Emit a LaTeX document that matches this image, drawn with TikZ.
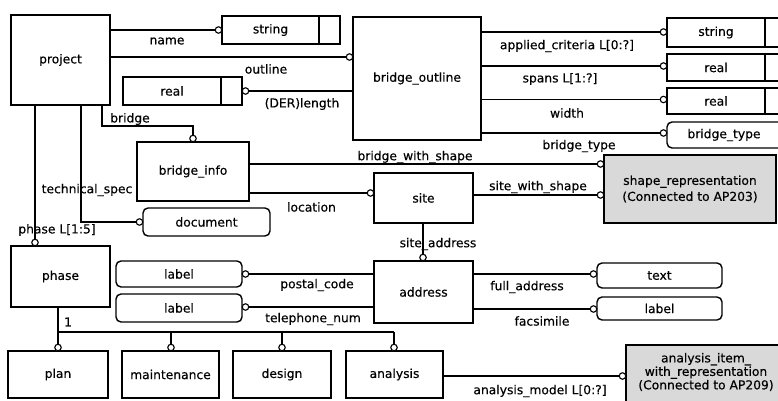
\documentclass[tikz,border=0pt]{standalone}
\usepackage{fontspec}
\setmainfont{DejaVu Sans}[FakeBold=0.35]
\newcommand\fsz{\fontsize{12.3}{14}\selectfont}
\newcommand\fszb{\fontsize{12.3}{13.5}\selectfont}
\tikzset{
  x=1pt, y=-1pt,
  ent/.style={draw, line width=1.4pt, inner sep=0pt, outer sep=0pt, font=\fsz},
  typ/.style={ent, rounded corners=5pt},
  ext/.style={ent, fill=black!15},
  rel/.style={line width=1.1pt},
  sub/.style={line width=2.4pt},
  oc/.style={circle, fill=white, line width=1.1pt, inner sep=0pt, outer sep=0pt, minimum size=6.5pt},
  lab/.style={font=\fsz, inner sep=0pt},
}
\begin{document}
\begin{tikzpicture}
\useasboundingbox (0,0) rectangle (778,401);
% entities
\node[ent, minimum width=99, minimum height=90] (project) at (60.5,60) {project};
\node[ent, minimum width=128, minimum height=123] (bridge_outline) at (417,78.5) {bridge\_outline};
\node[ent, minimum width=112, minimum height=59] (bridge_info) at (193,171.5) {bridge\_info};
\node[ent, minimum width=99, minimum height=61] (phase) at (60.5,276.5) {phase};
\node[ent, minimum width=99, minimum height=50] (site) at (423.5,198) {site};
\node[ent, minimum width=99, minimum height=62] (address) at (423.5,292) {address};
\node[ent, minimum width=100, minimum height=47] (plan) at (58,374.5) {plan};
\node[ent, minimum width=97, minimum height=47] (maintenance) at (170.5,374.5) {maintenance};
\node[ent, minimum width=98, minimum height=47] (design) at (282,374.5) {design};
\node[ent, minimum width=97, minimum height=47] (analysis) at (394.5,374.5) {analysis};
% simple types with extra cell
\node[ent, minimum width=97, minimum height=28] (string1) at (270.5,30) {string};
\node[ent, minimum width=21, minimum height=28, anchor=west] (string1c) at (string1.east) {};
\node[ent, minimum width=98, minimum height=28] (real1) at (172,91) {real};
\node[ent, minimum width=21, minimum height=28, anchor=west] (real1c) at (real1.east) {};
\node[ent, minimum width=98, minimum height=29] (string2) at (716,32.5) {string};
\node[ent, minimum width=25, minimum height=29, anchor=west] (string2c) at (string2.east) {};
\node[ent, minimum width=98, minimum height=27] (real2) at (716,67.5) {real};
\node[ent, minimum width=25, minimum height=27, anchor=west] (real2c) at (real2.east) {};
\node[ent, minimum width=98, minimum height=26] (real3) at (716,101) {real};
\node[ent, minimum width=25, minimum height=26, anchor=west] (real3c) at (real3.east) {};
% defined types
\node[typ, minimum width=127, minimum height=28] (document) at (206.5,222) {document};
\node[typ, minimum width=126, minimum height=26] (label1) at (179,274) {label};
\node[typ, minimum width=126, minimum height=28] (label2) at (179,308) {label};
\node[typ, minimum width=125, minimum height=25] (text) at (659.5,275.5) {text};
\node[typ, minimum width=125, minimum height=23] (label3) at (659.5,308.5) {label};
\node[typ, minimum width=124, minimum height=26] (bridge_type) at (729,135) {};
\node[lab] (bridge_type_t) at (724,135) {bridge\_type};
% external entities
\node[ext, minimum width=172, minimum height=68, align=center] (shape_rep) at (690,189)
  {shape\_representation\\[2pt](Connected to AP203)};
\node[ext, minimum width=164, minimum height=64] (analysis_item) at (708,377) {};
\node[lab, align=center, font=\fszb] (analysis_item_t) at (706,372)
  {analysis\_item\_\\with\_representation\\(Connected to AP209)};
% circle positions
\node[oc] (o_name) at (218.5,30) {};
\node[oc] (o_outline) at (349.5,57) {};
\node[oc] (o_der) at (245.5,91) {};
\node[oc] (o_bridge) at (193,138.5) {};
\node[oc] (o_tech) at (139.5,222) {};
\node[oc] (o_phase) at (35,242.5) {};
\node[oc] (o_appl) at (663.5,32) {};
\node[oc] (o_spans) at (663.5,66) {};
\node[oc] (o_width) at (663.5,99.5) {};
\node[oc] (o_btype) at (663.5,133) {};
\node[oc] (o_bws) at (600.5,164) {};
\node[oc] (o_sws) at (600.5,195) {};
\node[oc] (o_loc) at (370.5,193) {};
\node[oc] (o_saddr) at (423,257.5) {};
\node[oc] (o_postal) at (245.5,274) {};
\node[oc] (o_tel) at (245.5,307) {};
\node[oc] (o_full) at (593.5,274) {};
\node[oc] (o_fax) at (593.5,309) {};
\node[oc] (o_amodel) at (622.5,376) {};
\node[oc] (o_plan) at (58,347.5) {};
\node[oc] (o_maint) at (171,347.5) {};
\node[oc] (o_design) at (282,347.5) {};
\node[oc] (o_anal) at (394,347.5) {};
% relationships
\draw[rel] (project.east |- o_name) -- (o_name);
\draw[rel] (project.east |- o_outline) -- (o_outline);
\draw[rel] (bridge_outline.west |- o_der) -- (o_der);
\draw[rel] ([xshift=91pt]project.south west) |- (o_bridge |- 0,126) -- (o_bridge);
\draw[rel] ([xshift=70pt]project.south west) |- (o_tech);
\draw[rel] ([xshift=24pt]project.south west) -- (o_phase);
\draw[rel] (bridge_outline.east |- o_appl) -- (o_appl);
\draw[rel] (bridge_outline.east |- o_spans) -- (o_spans);
\draw[rel] (bridge_outline.east |- o_width) -- (o_width);
\draw[rel] (bridge_outline.east |- o_btype) -- (o_btype);
\draw[rel] (bridge_info.east |- o_bws) -- (o_bws);
\draw[rel] (bridge_info.east |- o_loc) -- (o_loc);
\draw[rel] (site.east |- o_sws) -- (o_sws);
\draw[rel] (site.south -| o_saddr) -- (o_saddr);
\draw[rel] (address.west |- o_postal) -- (o_postal);
\draw[rel] (address.west |- o_tel) -- (o_tel);
\draw[rel] (address.east |- o_full) -- (o_full);
\draw[rel] (address.east |- o_fax) -- (o_fax);
\draw[rel] (analysis.east |- o_amodel) -- (o_amodel);
% subtype tree
\draw[sub] (phase.south -| o_plan) -- (o_plan);
\draw[sub] (o_plan |- 0,332) -- (o_anal |- 0,332);
\draw[sub] (o_maint |- 0,332) -- (o_maint);
\draw[sub] (o_design |- 0,332) -- (o_design);
\draw[sub] (o_anal |- 0,332) -- (o_anal);
% circles drawn on top
\foreach \c in {o_name,o_outline,o_der,o_bridge,o_tech,o_phase,o_appl,o_spans,o_width,o_btype,o_bws,o_sws,o_loc,o_saddr,o_postal,o_tel,o_full,o_fax,o_amodel,o_plan,o_maint,o_design,o_anal}
  \draw[line width=1.1pt, fill=white] (\c.center) circle (3.25pt);
% labels
\node[lab] (l_name) at (167,41) {name};
\node[lab] (l_outline) at (266,69) {outline};
\node[lab] (l_der) at (302,104) {(DER)length};
\node[lab] (l_bridge) at (130,119) {bridge};
\node[lab] (l_tech) at (87,190) {technical\_spec};
\node[lab] (l_phase) at (57,230) {phase L[1:5]};
\node[lab] (l_appl) at (567,46) {applied\_criteria L[0:?]};
\node[lab] (l_spans) at (560,79) {spans L[1:?]};
\node[lab] (l_width) at (567,113) {width};
\node[lab] (l_btype) at (579,146) {bridge\_type};
\node[lab] (l_bws) at (415,157) {bridge\_with\_shape};
\node[lab] (l_sws) at (538,187) {site\_with\_shape};
\node[lab] (l_loc) at (311.5,207) {location};
\node[lab] (l_saddr) at (438,244) {site\_address};
\node[lab] (l_postal) at (317,285) {postal\_code};
\node[lab] (l_tel) at (313,319) {telephone\_num};
\node[lab] (l_full) at (527,287) {full\_address};
\node[lab] (l_fax) at (542,321) {facsimile};
\node[lab] (l_amodel) at (540,391) {analysis\_model L[0:?]};
\node[lab] (l_one) at (68,322) {1};
\end{tikzpicture}
\end{document}
